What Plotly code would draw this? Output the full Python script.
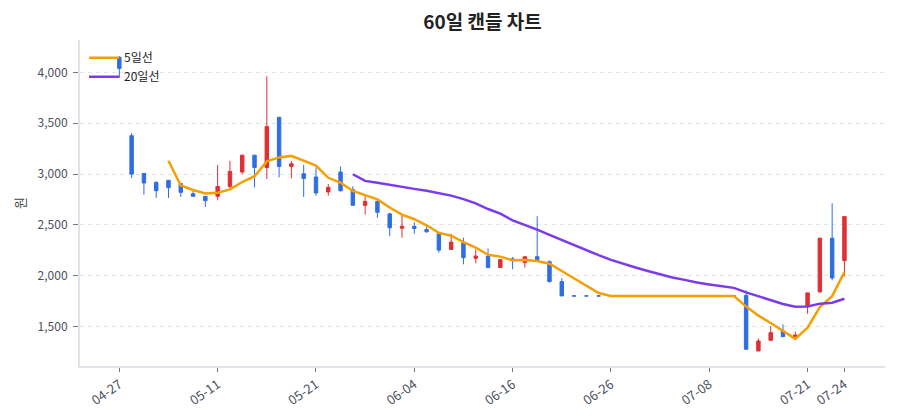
import plotly.graph_objects as go
import pandas as pd

# KRX trading days (2026), 60 sessions
dates = [
    "04-27", "04-28", "04-29", "04-30", "05-04", "05-06", "05-07", "05-08",
    "05-11", "05-12", "05-13", "05-14", "05-15", "05-18", "05-19", "05-20",
    "05-21", "05-22", "05-26", "05-27", "05-28", "05-29", "06-01", "06-02",
    "06-04", "06-05", "06-08", "06-09", "06-10", "06-11", "06-12", "06-15",
    "06-16", "06-17", "06-18", "06-19", "06-22", "06-23", "06-24", "06-25",
    "06-26", "06-29", "06-30", "07-01", "07-02", "07-03", "07-06", "07-07",
    "07-08", "07-09", "07-10", "07-13", "07-14", "07-15", "07-16", "07-20",
    "07-21", "07-22", "07-23", "07-24",
]

opens = [
    4150, 3378, 3006, 2918, 2938, 2905, 2807, 2781, 2781, 2878,
    3020, 3186, 3065, 3559, 3075, 3003, 2971, 2824, 3020, 2846,
    2692, 2731, 2608, 2467, 2486, 2454, 2412, 2258, 2324, 2170,
    2192, 2079, 2165, 2128, 2186, 2137, 1941, 1800, 1800, 1800,
    1800, 1800, 1800, 1800, 1800, 1800, 1800, 1800, 1800, 1800,
    1800, 1805, 1258, 1363, 1454, 1390, 1699, 1840, 2369, 2147,
]
highs = [
    4160, 3402, 3010, 2928, 2938, 2910, 2846, 2781, 3091, 3130,
    3186, 3186, 3963, 3559, 3130, 3091, 3065, 2902, 3075, 2879,
    2780, 2735, 2618, 2591, 2526, 2486, 2412, 2412, 2373, 2258,
    2268, 2160, 2183, 2186, 2585, 2150, 1974, 1800, 1800, 1800,
    1800, 1800, 1800, 1800, 1800, 1800, 1800, 1800, 1800, 1800,
    1800, 1856, 1380, 1503, 1520, 1448, 1830, 2369, 2712, 2581,
]
lows = [
    3947, 2961, 2797, 2765, 2765, 2775, 2781, 2676, 2741, 2863,
    3000, 2869, 2951, 2967, 2957, 2775, 2787, 2787, 2826, 2692,
    2601, 2569, 2388, 2373, 2412, 2422, 2226, 2258, 2111, 2121,
    2079, 2079, 2062, 2079, 2150, 1932, 1800, 1800, 1800, 1800,
    1800, 1800, 1800, 1800, 1800, 1800, 1800, 1800, 1800, 1800,
    1800, 1275, 1258, 1363, 1399, 1390, 1625, 1830, 1954, 1993,
]
closes = [
    4039, 3000, 2912, 2836, 2866, 2820, 2781, 2738, 2878, 3026,
    3186, 3065, 3467, 3075, 3101, 2957, 2814, 2869, 2836, 2692,
    2731, 2624, 2471, 2486, 2464, 2432, 2251, 2330, 2177, 2192,
    2079, 2157, 2150, 2186, 2150, 1941, 1800, 1800, 1800, 1800,
    1800, 1800, 1800, 1800, 1800, 1800, 1800, 1800, 1800, 1800,
    1800, 1275, 1356, 1438, 1399, 1415, 1830, 2369, 1977, 2581,
]

df = pd.DataFrame({"date": dates, "open": opens, "high": highs, "low": lows, "close": closes})
# moving averages from the closes
df["ma5"] = df["close"].rolling(window=5).mean()
df["ma20"] = df["close"].rolling(window=20).mean()

tick_dates = dates[::8] + [dates[-1]]

RED = "#de3034"
BLUE = "#2e6ee3"
font_family = "Noto Sans CJK KR, Noto Sans, sans-serif"

fig = go.Figure()

fig.add_trace(go.Candlestick(
    x=df["date"], open=df["open"], high=df["high"], low=df["low"], close=df["close"],
    increasing=dict(line=dict(color=RED, width=1), fillcolor=RED),
    decreasing=dict(line=dict(color=BLUE, width=1), fillcolor=BLUE),
    showlegend=False, name="",
))

fig.add_trace(go.Scatter(
    x=df["date"], y=df["ma5"], mode="lines", name="5일선",
    line=dict(color="#f59f00", width=2.5),
))
fig.add_trace(go.Scatter(
    x=df["date"], y=df["ma20"], mode="lines", name="20일선",
    line=dict(color="#7c3aed", width=2.5),
))

fig.update_layout(
    width=900, height=420,
    margin=dict(l=69, r=23, t=32, b=62),
    boxgap=0.6,
    paper_bgcolor="white", plot_bgcolor="white",
    font=dict(family=font_family, size=12, color="#444"),
    title=dict(text="<b>60일 캔들 차트</b>", x=0.5, xref="paper", y=0.967, yanchor="middle",
               xanchor="center", font=dict(size=19, color="#222", family=font_family)),
    legend=dict(x=0.005, y=0.99, xanchor="left", yanchor="top",
                bgcolor="rgba(255,255,255,0)", font=dict(size=12, color="#222")),
    xaxis=dict(
        type="category", range=[-3.2, 62.3],
        tickmode="array", tickvals=tick_dates, ticktext=tick_dates,
        tickangle=-35, showgrid=False, rangeslider=dict(visible=False),
        showline=True, linecolor="#dfe2e7", linewidth=2,
        ticks="outside", ticklen=4, tickcolor="#777",
        tickfont=dict(size=13, color="#4a5060"),
    ),
    yaxis=dict(
        range=[1110, 4320], tickformat=",", dtick=500,
        showgrid=True, gridcolor="#e4e4e4", griddash="4px,4px",
        showline=True, linecolor="#dfe2e7", linewidth=2,
        ticks="outside", ticklen=5, tickcolor="#777", ticklabelstandoff=3,
        tickfont=dict(size=12, color="#4a5060"),
        title=dict(text="원", font=dict(size=13, color="#444"), standoff=9),
        zeroline=False,
    ),
)

fig.write_html("out.html")
